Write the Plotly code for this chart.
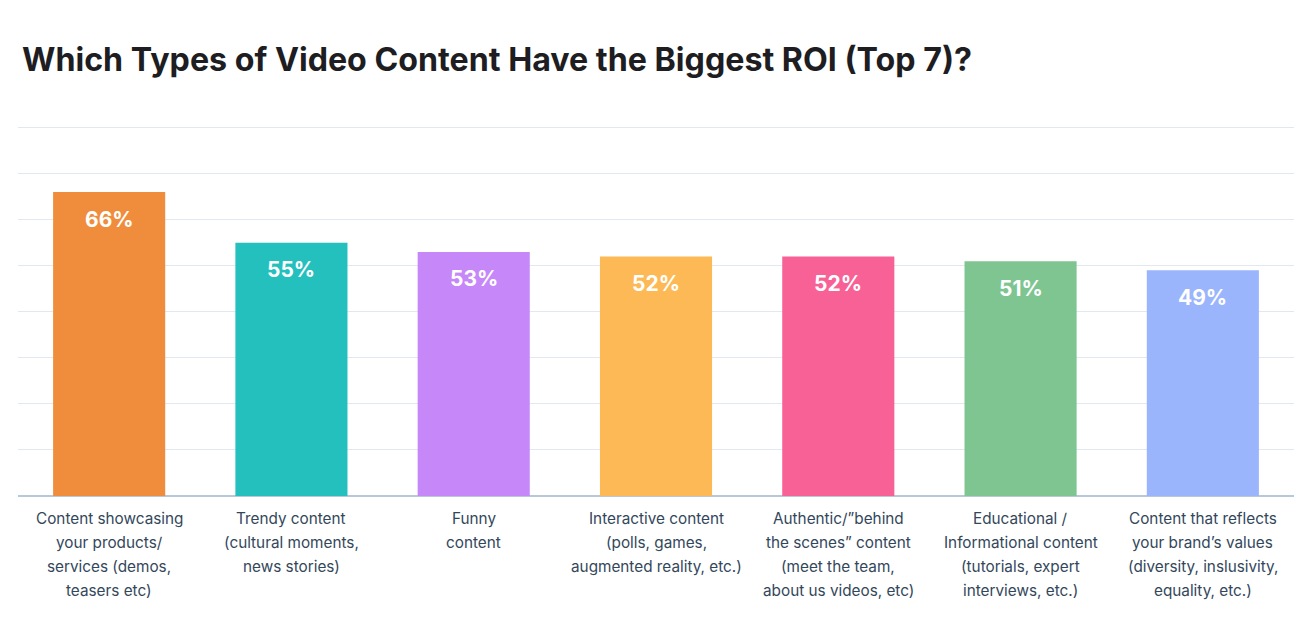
import plotly.graph_objects as go

categories = [
    "Content showcasing<br>your products/<br>services (demos,<br>teasers etc)",
    "Trendy content<br>(cultural moments,<br>news stories)",
    "Funny<br>content",
    "Interactive content<br>(polls, games,<br>augmented reality, etc.)",
    "Authentic/\u201dbehind<br>the scenes\u201d content<br>(meet the team,<br>about us videos, etc)",
    "Educational /<br>Informational content<br>(tutorials, expert<br>interviews, etc.)",
    "Content that reflects<br>your brand\u2019s values<br>(diversity, inslusivity,<br>equality, etc.)",
]
values = [66, 55, 53, 52, 52, 51, 49]
colors = ["#F08D3D", "#24C0BD", "#C687F9", "#FDB955", "#F76196", "#7EC592", "#9BB5FC"]
labels = [f"{v}%" for v in values]
grid_vals = [10, 20, 30, 40, 50, 60, 70, 80]

FONT = "Inter"
OFF = 8  # page body margin

fig = go.Figure(go.Bar(
    x=categories, y=values, marker=dict(color=colors, line=dict(width=0)),
    width=0.615, hoverinfo="skip",
))

for c, v, t in zip(categories, values, labels):
    fig.add_annotation(x=c, y=v, text=t, showarrow=False, yanchor="middle",
                       yshift=-27, font=dict(family=FONT, size=21, color="white", weight="bold"))
    for i, line in enumerate(c.split("<br>")):
        fig.add_annotation(x=c, y=0, text=line, showarrow=False, yanchor="middle",
                           yshift=-22 - 24 * i,
                           font=dict(family=FONT, size=15.3, color="#33475b"))

fig.update_layout(
    width=1314, height=634,
    paper_bgcolor="white", plot_bgcolor="white",
    margin=dict(l=10, r=28, t=115, b=146, autoexpand=False),
    title=dict(text="<b>Which Types of Video Content Have the Biggest ROI (Top 7)?</b>",
               x=(22 - OFF) / 1314, xanchor="left", y=1 - (60 - OFF) / 634, yanchor="middle",
               font=dict(family=FONT, size=32.2, color="#1d1d22")),
    showlegend=False,
    xaxis=dict(showgrid=False, showticklabels=False, ticks="", showline=False),
    yaxis=dict(range=[0, 81], tickvals=grid_vals, showticklabels=False,
               gridcolor="#e1e8ef", gridwidth=1, zeroline=True, zerolinecolor="#b6c8d9",
               zerolinewidth=2),
)

fig.write_html("out.html")
